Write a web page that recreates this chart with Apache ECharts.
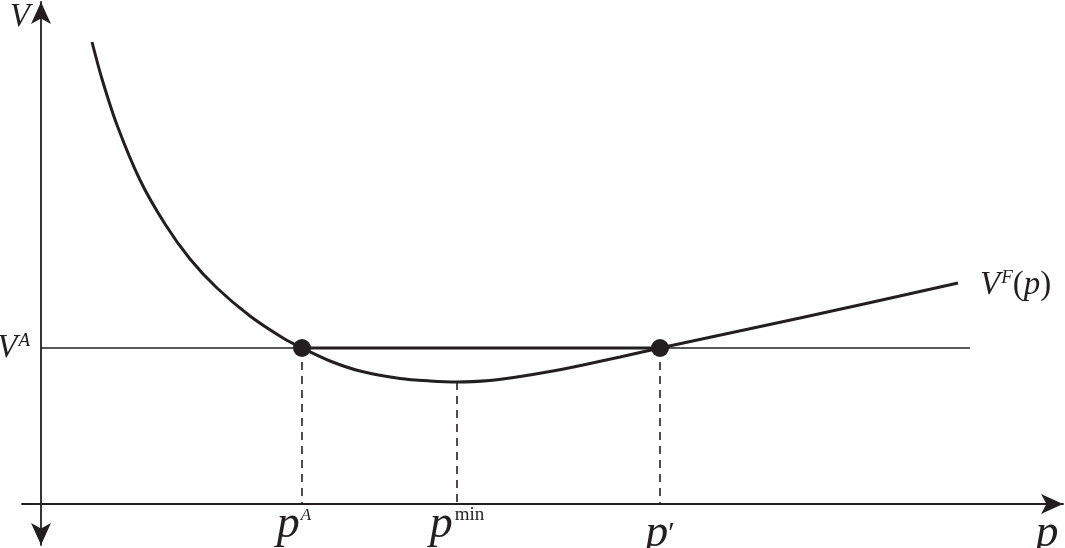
<!DOCTYPE html>
<html>
<head>
<meta charset="utf-8">
<script src="https://cdn.jsdelivr.net/npm/echarts@6/dist/echarts.min.js"></script>
<style>html,body{margin:0;padding:0;background:#fff}#c{width:1065px;height:548px}</style>
</head>
<body>
<div id="c"></div>
<script>
// V^F(p) curve
const curveP = [0.51, 0.61, 0.76, 0.99, 1.24, 1.49, 1.76, 2.09, 2.42, 2.61, 2.89, 3.19, 3.59, 3.89, 4.16, 4.49, 4.76, 5.09, 5.42, 5.79, 6.19, 7.59, 9.17];
const curveV = [4.62, 4.25, 3.79, 3.24, 2.80, 2.45, 2.16, 1.88, 1.66, 1.56, 1.43, 1.33, 1.255, 1.23, 1.22, 1.235, 1.27, 1.325, 1.39, 1.47, 1.56, 1.86, 2.21];
// key values
const vA = 1.56;
const vMin = 1.22;
const pA = 2.61, pMin = 4.16, pPrime = 6.19;
const vALineEnd = 9.29;
// tick labels
const xTickValues = [pA, pMin, pPrime, 10.06];
const xTickLabels = ['{i|p}{sA|A}', '{i|p}{u|min}', "{j|p}{pr|\u2032}", '{j|p}'];
const yTickValues = [vA, 4.865];
const yTickLabels = ['{i|V}{s|A}', '{i|V}'];
const curveName = '{i|V}{s|F}{r|(}{i|p}{r|)}';

const ink = '#231f20';
const serif = '"Liberation Serif", "DejaVu Serif", serif';

const rich = {
  i: {fontFamily: serif, fontStyle: 'italic', fontSize: 46, color: ink},
  j: {fontFamily: serif, fontStyle: 'italic', fontSize: 46, color: ink, padding: [9, 0, 0, 0]},
  pr: {fontFamily: serif, fontStyle: 'normal', fontSize: 30, color: ink, verticalAlign: 'top', padding: [17, 0, 0, 0]},
  sA: {fontFamily: serif, fontStyle: 'italic', fontSize: 17, color: ink, verticalAlign: 'top', padding: [5, 16, 0, 1]},
  u: {fontFamily: serif, fontStyle: 'normal', fontSize: 19, color: ink, verticalAlign: 'top', padding: [4, 0, 0, 2]}
};
const richV = {
  i: {fontFamily: serif, fontStyle: 'italic', fontSize: 33, color: ink},
  s: {fontFamily: serif, fontStyle: 'italic', fontSize: 19, color: ink, verticalAlign: 'top', padding: [0, 0, 0, 1]},
  r: {fontFamily: serif, fontStyle: 'normal', fontSize: 33, color: ink}
};

const curveData = curveP.map((p, k) => [p, curveV[k]]);
const drops = [[pA, vA], [pMin, vMin], [pPrime, vA]];

const onG = {xAxisIndex: 1, yAxisIndex: 1, silent: true};
const series = [
  Object.assign({type: 'line', data: [[0, vA], [vALineEnd, vA]], symbol: 'none', lineStyle: {color: ink, width: 1.5}, z: 2}, onG),
  Object.assign({type: 'line', data: [[pA, vA], [pPrime, vA]], symbol: 'none', lineStyle: {color: ink, width: 3.2}, z: 3}, onG),
  Object.assign({type: 'line', data: curveData, smooth: 0.3, symbol: 'none', lineStyle: {color: ink, width: 3}, z: 4,
   endLabel: {show: true, formatter: () => curveName, rich: richV, distance: 22, offset: [0, 2]}}, onG)
];
drops.forEach(d => {
  series.push(Object.assign({type: 'line', data: [[d[0], d[1]], [d[0], 0]], symbol: 'none',
    lineStyle: {color: ink, width: 1.6, type: [8, 6]}, z: 2}, onG));
});
series.push(Object.assign({type: 'scatter', data: [[pA, vA], [pPrime, vA]], symbolSize: 18, itemStyle: {color: ink, opacity: 1}, z: 5}, onG));

const hidden = {splitLine: {show: false}, axisTick: {show: false}};
const chart = echarts.init(document.getElementById('c'));
chart.setOption({
  animation: false,
  grid: [
    {left: 41, right: 2, top: 2, bottom: 44, containLabel: false, outerBoundsMode: 'none'},
    {left: 22, right: 2, top: 2, bottom: 3, containLabel: false, outerBoundsMode: 'none'}
  ],
  xAxis: [
    Object.assign({gridIndex: 0, type: 'value', min: 0, max: 10.22, axisLine: {show: false},
      axisLabel: {customValues: xTickValues, margin: -2, rich: rich,
        formatter: v => xTickLabels[xTickValues.indexOf(v)] || ''}}, hidden),
    Object.assign({gridIndex: 1, type: 'value', min: -0.19, max: 10.22, axisLabel: {show: false},
      axisLine: {onZero: true, lineStyle: {color: ink, width: 1.8}, symbol: ['none', 'arrow'], symbolSize: [15, 22]}}, hidden)
  ],
  yAxis: [
    Object.assign({gridIndex: 0, type: 'value', min: 0, max: 5.02, axisLine: {show: false},
      axisLabel: {customValues: yTickValues, margin: 11, rich: richV,
        formatter: v => yTickLabels[yTickValues.indexOf(v)] || ''}}, hidden),
    Object.assign({gridIndex: 1, type: 'value', min: -0.41, max: 5.02, axisLabel: {show: false},
      axisLine: {onZero: true, lineStyle: {color: ink, width: 1.8}, symbol: ['arrow', 'arrow'], symbolSize: [15, 22]}}, hidden)
  ],
  series: series
});
</script>
</body>
</html>
